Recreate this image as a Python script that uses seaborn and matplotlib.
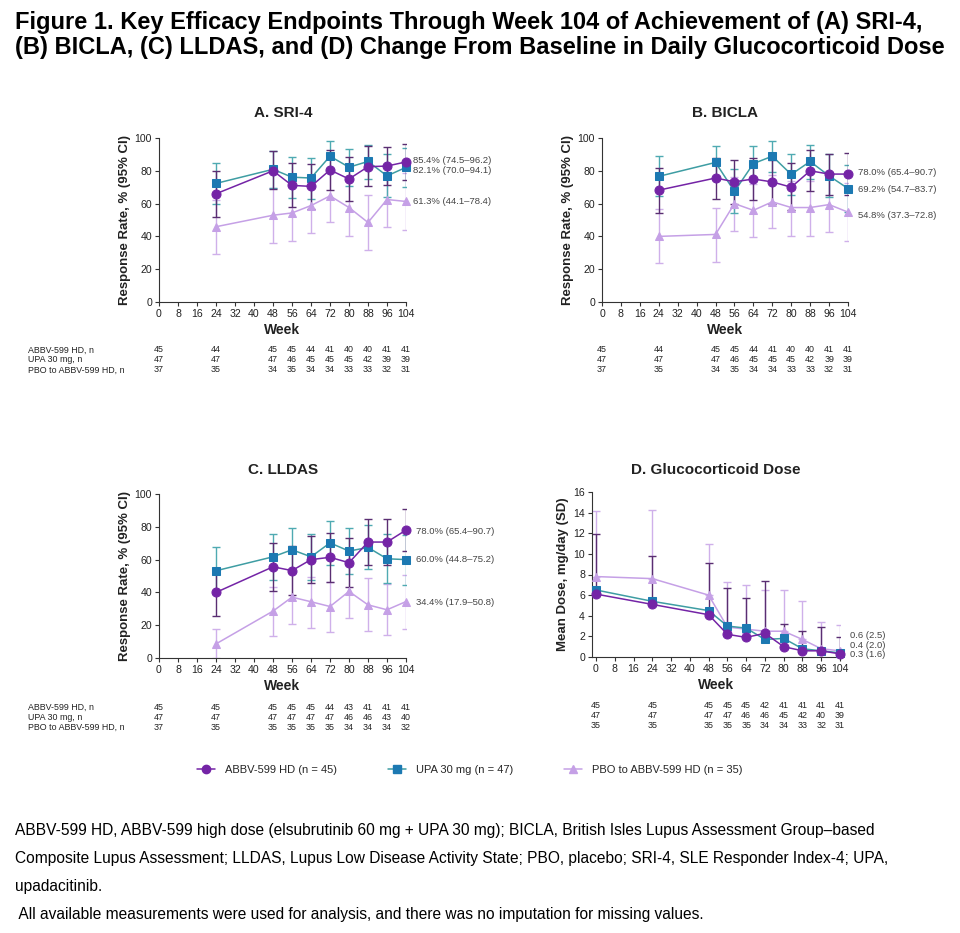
import numpy as np
import pandas as pd
import matplotlib
matplotlib.use('Agg')
import matplotlib.pyplot as plt
import seaborn as sns
from matplotlib.lines import Line2D
from matplotlib.transforms import blended_transform_factory

sns.set_style('ticks')
plt.rcParams['font.family'] = ['Liberation Sans', 'DejaVu Sans']

# ---------------- data ----------------
weeks_rr = [24, 48, 56, 64, 72, 80, 88, 96, 104]
weeks_gc = [0, 24, 48, 56, 64, 72, 80, 88, 96, 104]
weeks_n = [0, 24, 48, 56, 64, 72, 80, 88, 96, 104]
xticks = list(range(0, 105, 8))

series_names = ['ABBV-599 HD (n = 45)', 'UPA 30 mg (n = 47)', 'PBO to ABBV-599 HD (n = 35)']
row_labels = ['ABBV-599 HD, n', 'UPA 30 mg, n', 'PBO to ABBV-599 HD, n']

# A. SRI-4
sri_abbv = [66.0, 80.0, 71.1, 70.5, 80.5, 75.0, 82.5, 82.9, 85.4]
sri_abbv_lo = [52.0, 69.0, 58.0, 57.0, 68.5, 61.5, 71.0, 71.5, 74.5]
sri_abbv_hi = [80.0, 92.0, 84.5, 84.0, 92.5, 88.5, 95.0, 94.5, 96.2]
sri_upa = [72.3, 80.9, 76.1, 75.6, 88.9, 82.2, 85.7, 76.9, 82.1]
sri_upa_lo = [59.5, 69.5, 63.5, 63.0, 79.5, 71.0, 75.0, 64.0, 70.0]
sri_upa_hi = [85.0, 92.0, 88.5, 88.0, 98.0, 93.5, 96.0, 90.0, 94.1]
sri_pbo = [45.9, 52.9, 54.3, 58.8, 64.7, 57.6, 48.5, 62.5, 61.3]
sri_pbo_lo = [29.5, 36.0, 37.5, 42.0, 48.5, 40.5, 31.5, 45.5, 44.1]
sri_pbo_hi = [62.0, 69.5, 71.0, 75.5, 80.5, 74.5, 65.5, 79.0, 78.4]
sri_labels = ['85.4% (74.5\u201396.2)', '82.1% (70.0\u201394.1)', '61.3% (44.1\u201378.4)']
sri_n_abbv = [45, 44, 45, 45, 44, 41, 40, 40, 41, 41]
sri_n_upa = [47, 47, 47, 46, 45, 45, 45, 42, 39, 39]
sri_n_pbo = [37, 35, 34, 35, 34, 34, 33, 33, 32, 31]

# B. BICLA
bic_abbv = [68.2, 75.6, 73.3, 75.0, 73.2, 70.0, 80.0, 78.0, 78.0]
bic_abbv_lo = [54.5, 63.0, 60.0, 62.0, 60.0, 56.0, 67.5, 65.5, 65.4]
bic_abbv_hi = [82.0, 88.0, 86.5, 88.0, 86.5, 84.5, 92.5, 90.5, 90.7]
bic_upa = [76.6, 85.1, 67.4, 84.4, 88.9, 77.8, 85.7, 76.9, 69.2]
bic_upa_lo = [64.5, 75.0, 54.0, 73.5, 79.5, 65.5, 75.0, 64.0, 54.7]
bic_upa_hi = [89.0, 95.0, 81.0, 95.0, 98.0, 90.0, 96.0, 90.5, 83.7]
bic_pbo = [40.0, 41.2, 60.0, 55.9, 61.1, 57.6, 57.6, 59.4, 54.8]
bic_pbo_lo = [24.0, 24.5, 43.5, 39.5, 45.0, 40.5, 40.5, 42.5, 37.3]
bic_pbo_hi = [57.0, 57.5, 76.0, 72.0, 77.5, 74.0, 74.0, 76.0, 72.8]
bic_labels = ['78.0% (65.4\u201390.7)', '69.2% (54.7\u201383.7)', '54.8% (37.3\u201372.8)']
bic_n_abbv = [45, 44, 45, 45, 44, 41, 40, 40, 41, 41]
bic_n_upa = [47, 47, 47, 46, 45, 45, 45, 42, 39, 39]
bic_n_pbo = [37, 35, 34, 35, 34, 34, 33, 33, 32, 31]

# C. LLDAS
lld_abbv = [40.0, 55.6, 53.3, 60.0, 61.4, 58.1, 70.7, 70.7, 78.0]
lld_abbv_lo = [25.5, 41.0, 38.5, 45.5, 46.5, 43.5, 56.5, 56.5, 65.4]
lld_abbv_hi = [54.5, 70.0, 68.0, 74.5, 76.0, 73.0, 85.0, 85.0, 90.7]
lld_upa = [53.2, 61.7, 66.0, 61.7, 70.2, 65.2, 67.4, 60.5, 60.0]
lld_upa_lo = [39.0, 47.5, 52.5, 47.5, 57.0, 51.5, 54.0, 45.5, 44.8]
lld_upa_hi = [67.5, 75.5, 79.5, 75.5, 83.5, 79.0, 81.0, 75.5, 75.2]
lld_pbo = [8.6, 28.6, 37.1, 34.3, 31.4, 40.6, 32.4, 29.4, 34.4]
lld_pbo_lo = [0.0, 13.5, 21.0, 18.5, 16.0, 24.5, 16.5, 14.0, 17.9]
lld_pbo_hi = [17.5, 43.5, 53.0, 49.5, 46.5, 57.0, 48.5, 45.0, 50.8]
lld_labels = ['78.0% (65.4\u201390.7)', '60.0% (44.8\u201375.2)', '34.4% (17.9\u201350.8)']
lld_n_abbv = [45, 45, 45, 45, 45, 44, 43, 41, 41, 41]
lld_n_upa = [47, 47, 47, 47, 47, 47, 46, 46, 43, 40]
lld_n_pbo = [37, 35, 35, 35, 35, 35, 34, 34, 34, 32]

# D. Glucocorticoid dose (mean, SD)
gc_abbv = [6.1, 5.1, 4.1, 2.2, 1.9, 2.3, 1.0, 0.6, 0.6, 0.3]
gc_abbv_sd = [5.8, 4.7, 5.0, 4.5, 3.8, 5.1, 2.2, 1.9, 2.3, 1.6]
gc_upa = [6.5, 5.4, 4.5, 3.0, 2.8, 1.7, 1.8, 0.8, 0.6, 0.4]
gc_pbo = [7.8, 7.6, 6.0, 2.9, 2.7, 2.5, 2.5, 1.7, 0.8, 0.6]
gc_pbo_sd = [6.4, 6.7, 5.0, 4.4, 4.3, 4.0, 3.95, 3.7, 2.55, 2.5]
gc_labels = ['0.6 (2.5)', '0.4 (2.0)', '0.3 (1.6)']
gc_n_abbv = [45, 45, 45, 45, 45, 42, 41, 41, 41, 41]
gc_n_upa = [47, 47, 47, 47, 46, 46, 45, 42, 40, 39]
gc_n_pbo = [35, 35, 35, 35, 35, 34, 34, 33, 32, 31]

title_text = ('Figure 1. Key Efficacy Endpoints Through Week 104 of Achievement of (A) SRI-4,\n'
              '(B) BICLA, (C) LLDAS, and (D) Change From Baseline in Daily Glucocorticoid Dose')
foot_lines = [
    'ABBV-599 HD, ABBV-599 high dose (elsubrutinib 60 mg + UPA 30 mg); BICLA, British Isles Lupus Assessment Group\u2013based',
    'Composite Lupus Assessment; LLDAS, Lupus Low Disease Activity State; PBO, placebo; SRI-4, SLE Responder Index-4; UPA,',
    'upadacitinib.',
    ' All available measurements were used for analysis, and there was no imputation for missing values.',
]

# ---------------- style ----------------
C_ABBV = '#7424A6'
C_UPA_LINE = '#3E9DA3'
C_UPA_MK = '#1C79B2'
C_PBO = '#C5A0E6'
E_ABBV = '#5A2E72'
E_UPA = '#4FAAB2'
E_PBO = '#CFB0EA'
TXT = '#222222'
GRAY = '#444444'

W, H = 960, 933
fig = plt.figure(figsize=(W / 100, H / 100), dpi=100)
fig.patch.set_facecolor('white')


def fx(px):
    return px / W


def fy(py):
    return 1 - py / H


def make_ax(left, right, top, bottom):
    return fig.add_axes([fx(left), fy(bottom), fx(right - left), (bottom - top) / H])


def style_ax(ax):
    sns.despine(ax=ax)
    for s in ['left', 'bottom']:
        ax.spines[s].set_linewidth(0.8)
        ax.spines[s].set_color('#333333')
    ax.tick_params(axis='both', labelsize=7.6, length=3, width=0.8, color='#333333',
                   labelcolor=TXT, pad=2)
    ax.set_facecolor('white')
    ax.grid(False)


def draw_series(ax, x, y, color, marker, mfc, ms, lw=1.1, z=3):
    sns.lineplot(x=x, y=y, ax=ax, color=color, marker=marker, markersize=ms,
                 markerfacecolor=mfc, markeredgecolor=mfc, linewidth=lw,
                 errorbar=None, zorder=z, legend=False, clip_on=False)


def draw_rr(ax, x, abbv, alo, ahi, upa, ulo, uhi, pbo, plo, phi):
    ab = np.array(abbv); up = np.array(upa); pb = np.array(pbo)
    ax.errorbar(x, pb, yerr=[pb - np.array(plo), np.array(phi) - pb], fmt='none',
                ecolor=E_PBO, elinewidth=1.0, capsize=3.2, capthick=1.0, zorder=2)
    ax.errorbar(x, up, yerr=[up - np.array(ulo), np.array(uhi) - up], fmt='none',
                ecolor=E_UPA, elinewidth=1.0, capsize=3.2, capthick=1.0, zorder=2)
    ax.errorbar(x, ab, yerr=[ab - np.array(alo), np.array(ahi) - ab], fmt='none',
                ecolor=E_ABBV, elinewidth=1.0, capsize=3.2, capthick=1.0, zorder=2)
    draw_series(ax, x, pbo, C_PBO, '^', C_PBO, 5.5, z=3)
    draw_series(ax, x, upa, C_UPA_LINE, 's', C_UPA_MK, 6.0, z=4)
    draw_series(ax, x, abbv, C_ABBV, 'o', C_ABBV, 6.5, z=5)
    ax.set_xlim(0, 104)
    ax.set_ylim(0, 100)
    ax.set_xticks(xticks)
    ax.set_yticks(range(0, 101, 20))
    ax.set_ylabel('Response Rate, % (95% CI)', fontsize=9.5, fontweight='bold', color=TXT, labelpad=3)
    ax.set_xlabel('Week', fontsize=10, fontweight='bold', color=TXT, labelpad=3)
    style_ax(ax)


def add_labels(ax, labels, ypos, xoff):
    for lab, yv in zip(labels, ypos):
        ax.annotate(lab, xy=(1, yv), xycoords=('axes fraction', 'data'),
                    xytext=(xoff, 0), textcoords='offset points', fontsize=6.8,
                    color=GRAY, va='center', ha='left', annotation_clip=False)


def add_counts(ax, rows, ys, with_labels):
    tr = blended_transform_factory(ax.transData, fig.transFigure)
    for r, (vals, yy) in enumerate(zip(rows, ys)):
        for wk, v in zip(weeks_n, vals):
            fig.text(wk, fy(yy), str(v), transform=tr, ha='center', va='center',
                     fontsize=6.4, color=TXT)
        if with_labels:
            fig.text(fx(28), fy(yy), row_labels[r], ha='left', va='center',
                     fontsize=6.4, color=TXT)


# ---- Panel A ----
axA = make_ax(159, 406, 138, 302)
draw_rr(axA, weeks_rr, sri_abbv, sri_abbv_lo, sri_abbv_hi, sri_upa, sri_upa_lo, sri_upa_hi,
        sri_pbo, sri_pbo_lo, sri_pbo_hi)
add_labels(axA, sri_labels, [86.0, 80.0, 61.5], 5)
add_counts(axA, [sri_n_abbv, sri_n_upa, sri_n_pbo], [350, 360, 370], True)
fig.text(fx(283), fy(113), 'A. SRI-4', ha='center', va='center', fontsize=11,
         fontweight='bold', color=TXT)

# ---- Panel B ----
axB = make_ax(602, 848, 138, 302)
draw_rr(axB, weeks_rr, bic_abbv, bic_abbv_lo, bic_abbv_hi, bic_upa, bic_upa_lo, bic_upa_hi,
        bic_pbo, bic_pbo_lo, bic_pbo_hi)
add_labels(axB, bic_labels, [78.7, 68.3, 53.0], 7)
add_counts(axB, [bic_n_abbv, bic_n_upa, bic_n_pbo], [350, 360, 370], False)
fig.text(fx(725), fy(113), 'B. BICLA', ha='center', va='center', fontsize=11,
         fontweight='bold', color=TXT)

# ---- Panel C ----
axC = make_ax(159, 406, 494, 658)
draw_rr(axC, weeks_rr, lld_abbv, lld_abbv_lo, lld_abbv_hi, lld_upa, lld_upa_lo, lld_upa_hi,
        lld_pbo, lld_pbo_lo, lld_pbo_hi)
add_labels(axC, lld_labels, [77.4, 59.8, 34.1], 7)
add_counts(axC, [lld_n_abbv, lld_n_upa, lld_n_pbo], [707, 717, 727], True)
fig.text(fx(283), fy(470), 'C. LLDAS', ha='center', va='center', fontsize=11,
         fontweight='bold', color=TXT)

# ---- Panel D ----
axD = make_ax(592, 840, 492, 657)
gab = np.array(gc_abbv); gpb = np.array(gc_pbo)
axD.errorbar(weeks_gc, gpb, yerr=[np.zeros_like(gpb), np.array(gc_pbo_sd)], fmt='none',
             ecolor=E_PBO, elinewidth=1.0, capsize=3.2, capthick=1.0, zorder=2)
axD.errorbar(weeks_gc, gab, yerr=[np.zeros_like(gab), np.array(gc_abbv_sd)], fmt='none',
             ecolor=E_ABBV, elinewidth=1.0, capsize=3.2, capthick=1.0, zorder=2)
draw_series(axD, weeks_gc, gc_pbo, C_PBO, '^', C_PBO, 5.5, z=3)
draw_series(axD, weeks_gc, gc_upa, C_UPA_LINE, 's', C_UPA_MK, 6.0, z=4)
draw_series(axD, weeks_gc, gc_abbv, C_ABBV, 'o', C_ABBV, 6.5, z=5)
axD.set_xlim(-1.7, 104)
axD.set_ylim(0, 16)
axD.set_xticks(xticks)
axD.set_yticks(range(0, 17, 2))
axD.set_ylabel('Mean Dose, mg/day (SD)', fontsize=9.5, fontweight='bold', color=TXT, labelpad=3)
axD.set_xlabel('Week', fontsize=10, fontweight='bold', color=TXT, labelpad=3)
style_ax(axD)
add_labels(axD, gc_labels, [2.1, 1.15, 0.2], 7)
add_counts(axD, [gc_n_abbv, gc_n_upa, gc_n_pbo], [705, 715, 725], False)
fig.text(fx(716), fy(470), 'D. Glucocorticoid Dose', ha='center', va='center', fontsize=11,
         fontweight='bold', color=TXT)

# ---- Legend ----
handles = [
    Line2D([0], [0], color=C_ABBV, marker='o', markersize=6, markerfacecolor=C_ABBV,
           markeredgecolor=C_ABBV, lw=1.1),
    Line2D([0], [0], color=C_UPA_LINE, marker='s', markersize=5.5, markerfacecolor=C_UPA_MK,
           markeredgecolor=C_UPA_MK, lw=1.1),
    Line2D([0], [0], color=C_PBO, marker='^', markersize=5.5, markerfacecolor=C_PBO,
           markeredgecolor=C_PBO, lw=1.1),
]
fig.legend(handles, series_names, loc='center', bbox_to_anchor=(fx(470), fy(770)), ncol=3,
           frameon=False, fontsize=8, handlelength=1.6, columnspacing=4.6, handletextpad=0.9)

# ---- Title & footnotes ----
fig.text(fx(15), fy(35), title_text, ha='left', va='center', fontsize=17,
         fontweight='bold', color='black', linespacing=1.12)
for line, yy in zip(foot_lines, [831, 858, 886, 914]):
    fig.text(fx(15), fy(yy), line, ha='left', va='center', fontsize=11.2, color='black')

fig.savefig('out.png', dpi=100, facecolor='white')
